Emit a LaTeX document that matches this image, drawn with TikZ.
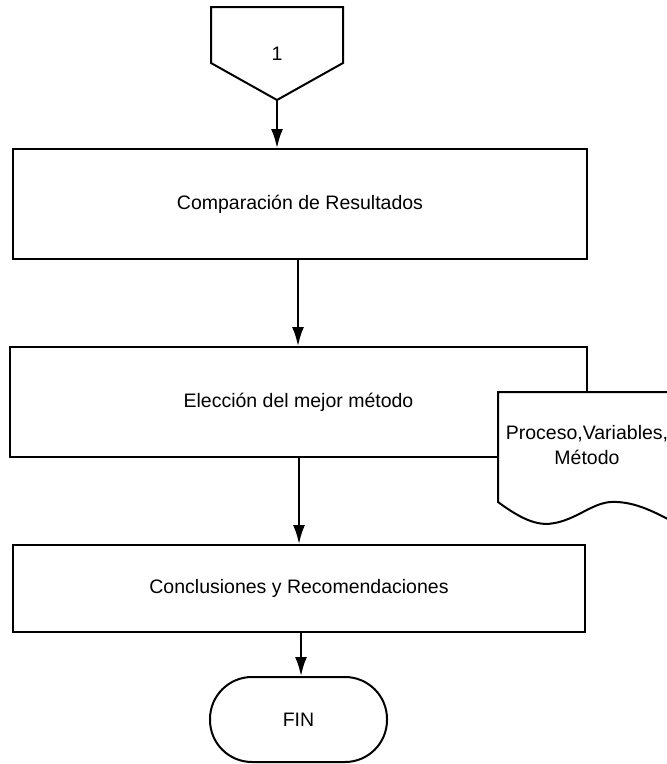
\documentclass[tikz,border=0pt]{standalone}
\usepackage{fontspec}
\setmainfont{Liberation Sans}
\usetikzlibrary{arrows.meta}

\begin{document}
\begin{tikzpicture}[x=1pt,y=-1pt,line width=2pt,
    >={Latex[length=19pt,width=12pt]},
    font=\fontsize{19.5}{25}\selectfont,
    proc/.style={shape=rectangle,draw=black,fill=white,inner sep=0pt}]
        \useasboundingbox (0,0) rectangle (667,764);
        \clip (0,0) rectangle (667,764);
        % conector de pagina
        \draw (211,7) -- (343,7) -- (343,63) -- (277,100) -- (211,63) -- cycle;
        \node (con) at (277,54) {1};
        \coordinate (conpt) at (277,100);
        \node[proc,minimum width=574pt,minimum height=110pt] (comp) at (300,204) {Comparación de Resultados};
        \node[proc,minimum width=577pt,minimum height=110pt] (elec) at (298.5,402) {Elección del mejor método};
        \node[proc,minimum width=572pt,minimum height=87pt] (concl) at (299,588.5) {Conclusiones y Recomendaciones};
        \node[proc,rounded corners=42pt,minimum width=177pt,minimum height=85pt] (fin) at (298.5,719.5) {FIN};
        % documento
        \draw[fill=white] (498,392) -- (498,502) .. controls (525,522) and (540,526) .. (555,523)
            .. controls (580,518) and (595,500) .. (617,502)
            .. controls (640,503) and (660,515) .. (685,528) -- (685,392) -- cycle;
        \node[align=center] (doc) at (587,445) {Proceso,Variables,\\Método};
        \path [->] (conpt) edge (conpt |- comp.north);
        \path [->] (comp.south -| 298,0) edge (elec.north -| 298,0);
        \path [->] (elec.south -| 299,0) edge (concl.north -| 299,0);
        \path [->] (concl.south -| 301,0) edge (fin.north -| 301,0);
\end{tikzpicture}
\end{document}
